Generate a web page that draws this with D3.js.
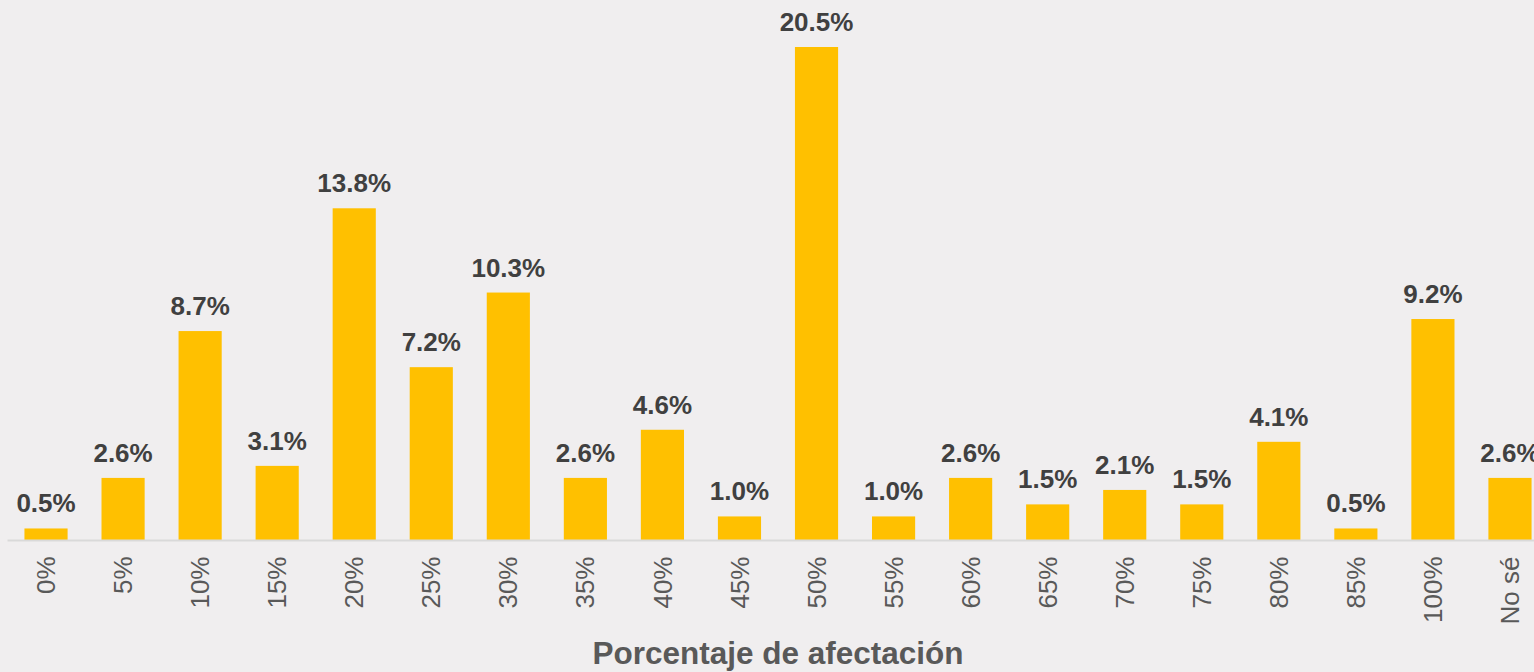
<!DOCTYPE html>
<html>
<head>
<meta charset="utf-8">
<script src="https://cdn.jsdelivr.net/npm/d3@7"></script>
<style>
  html, body { margin: 0; padding: 0; background: #f0eeef; overflow: hidden; }
  svg { display: block; font-family: "Liberation Sans", Arial, sans-serif; }
</style>
</head>
<body>
<svg id="chart" width="1534" height="672"></svg>
<script>
// Categories (share of damage) and the percentage of respondents for each
const categories = ["0%", "5%", "10%", "15%", "20%", "25%", "30%", "35%", "40%", "45%",
  "50%", "55%", "60%", "65%", "70%", "75%", "80%", "85%", "100%", "No sé"];
const values = [0.5, 2.6, 8.7, 3.1, 13.8, 7.2, 10.3, 2.6, 4.6, 1.0,
  20.5, 1.0, 2.6, 1.5, 2.1, 1.5, 4.1, 0.5, 9.2, 2.6];
const axisTitle = "Porcentaje de afectación";

(function () {
  const svg = d3.select("#chart");
  const W = 1534, H = 672;
  const plotLeft = 7.5, plotRight = 1548.5, baseline = 540.5, plotTop = 47;

  svg.append("rect").attr("width", W).attr("height", H).attr("fill", "#f0eeef");

  const data = categories.map((c, i) => ({ c, v: values[i] }));

  const x = d3.scaleBand().domain(categories).range([plotLeft, plotRight])
    .paddingInner(0.44).paddingOuter(0.22);
  const y = d3.scaleLinear().domain([0, 20.5]).range([baseline, plotTop]);

  // bars
  svg.append("g").selectAll("rect").data(data).join("rect")
    .attr("x", d => x(d.c))
    .attr("width", x.bandwidth())
    .attr("y", d => y(d.v))
    .attr("height", d => y(0) - y(d.v))
    .attr("fill", "#ffc000");

  // value labels (the last one runs off the right edge, as in the layout it comes from)
  svg.append("g").selectAll("text").data(data).join("text")
    .attr("x", d => x(d.c) + x.bandwidth() / 2)
    .attr("y", d => y(d.v) - 16)
    .attr("text-anchor", "middle")
    .attr("font-size", 26)
    .attr("font-weight", "bold")
    .attr("fill", "#404040")
    .text(d => d.v.toFixed(1) + "%");

  // category axis
  const ax = svg.append("g").attr("transform", `translate(0,${baseline})`)
    .call(d3.axisBottom(x).tickSize(0).tickPadding(0));
  ax.select(".domain").attr("stroke", "#d9d9d9").attr("stroke-width", 2)
    .attr("d", `M${plotLeft},0H${W}`);
  ax.selectAll(".tick text")
    .attr("transform", "rotate(-90)")
    .attr("x", -16)
    .attr("y", 0)
    .attr("dy", "0.35em")
    .attr("text-anchor", "end")
    .attr("font-size", 26)
    .attr("font-family", "Liberation Sans, Arial, sans-serif")
    .attr("fill", "#595959");

  // axis title
  svg.append("text")
    .attr("x", (plotLeft + plotRight) / 2)
    .attr("y", 664)
    .attr("text-anchor", "middle")
    .attr("font-size", 31.5)
    .attr("font-weight", "bold")
    .attr("fill", "#595959")
    .text(axisTitle);
})();
</script>
</body>
</html>
